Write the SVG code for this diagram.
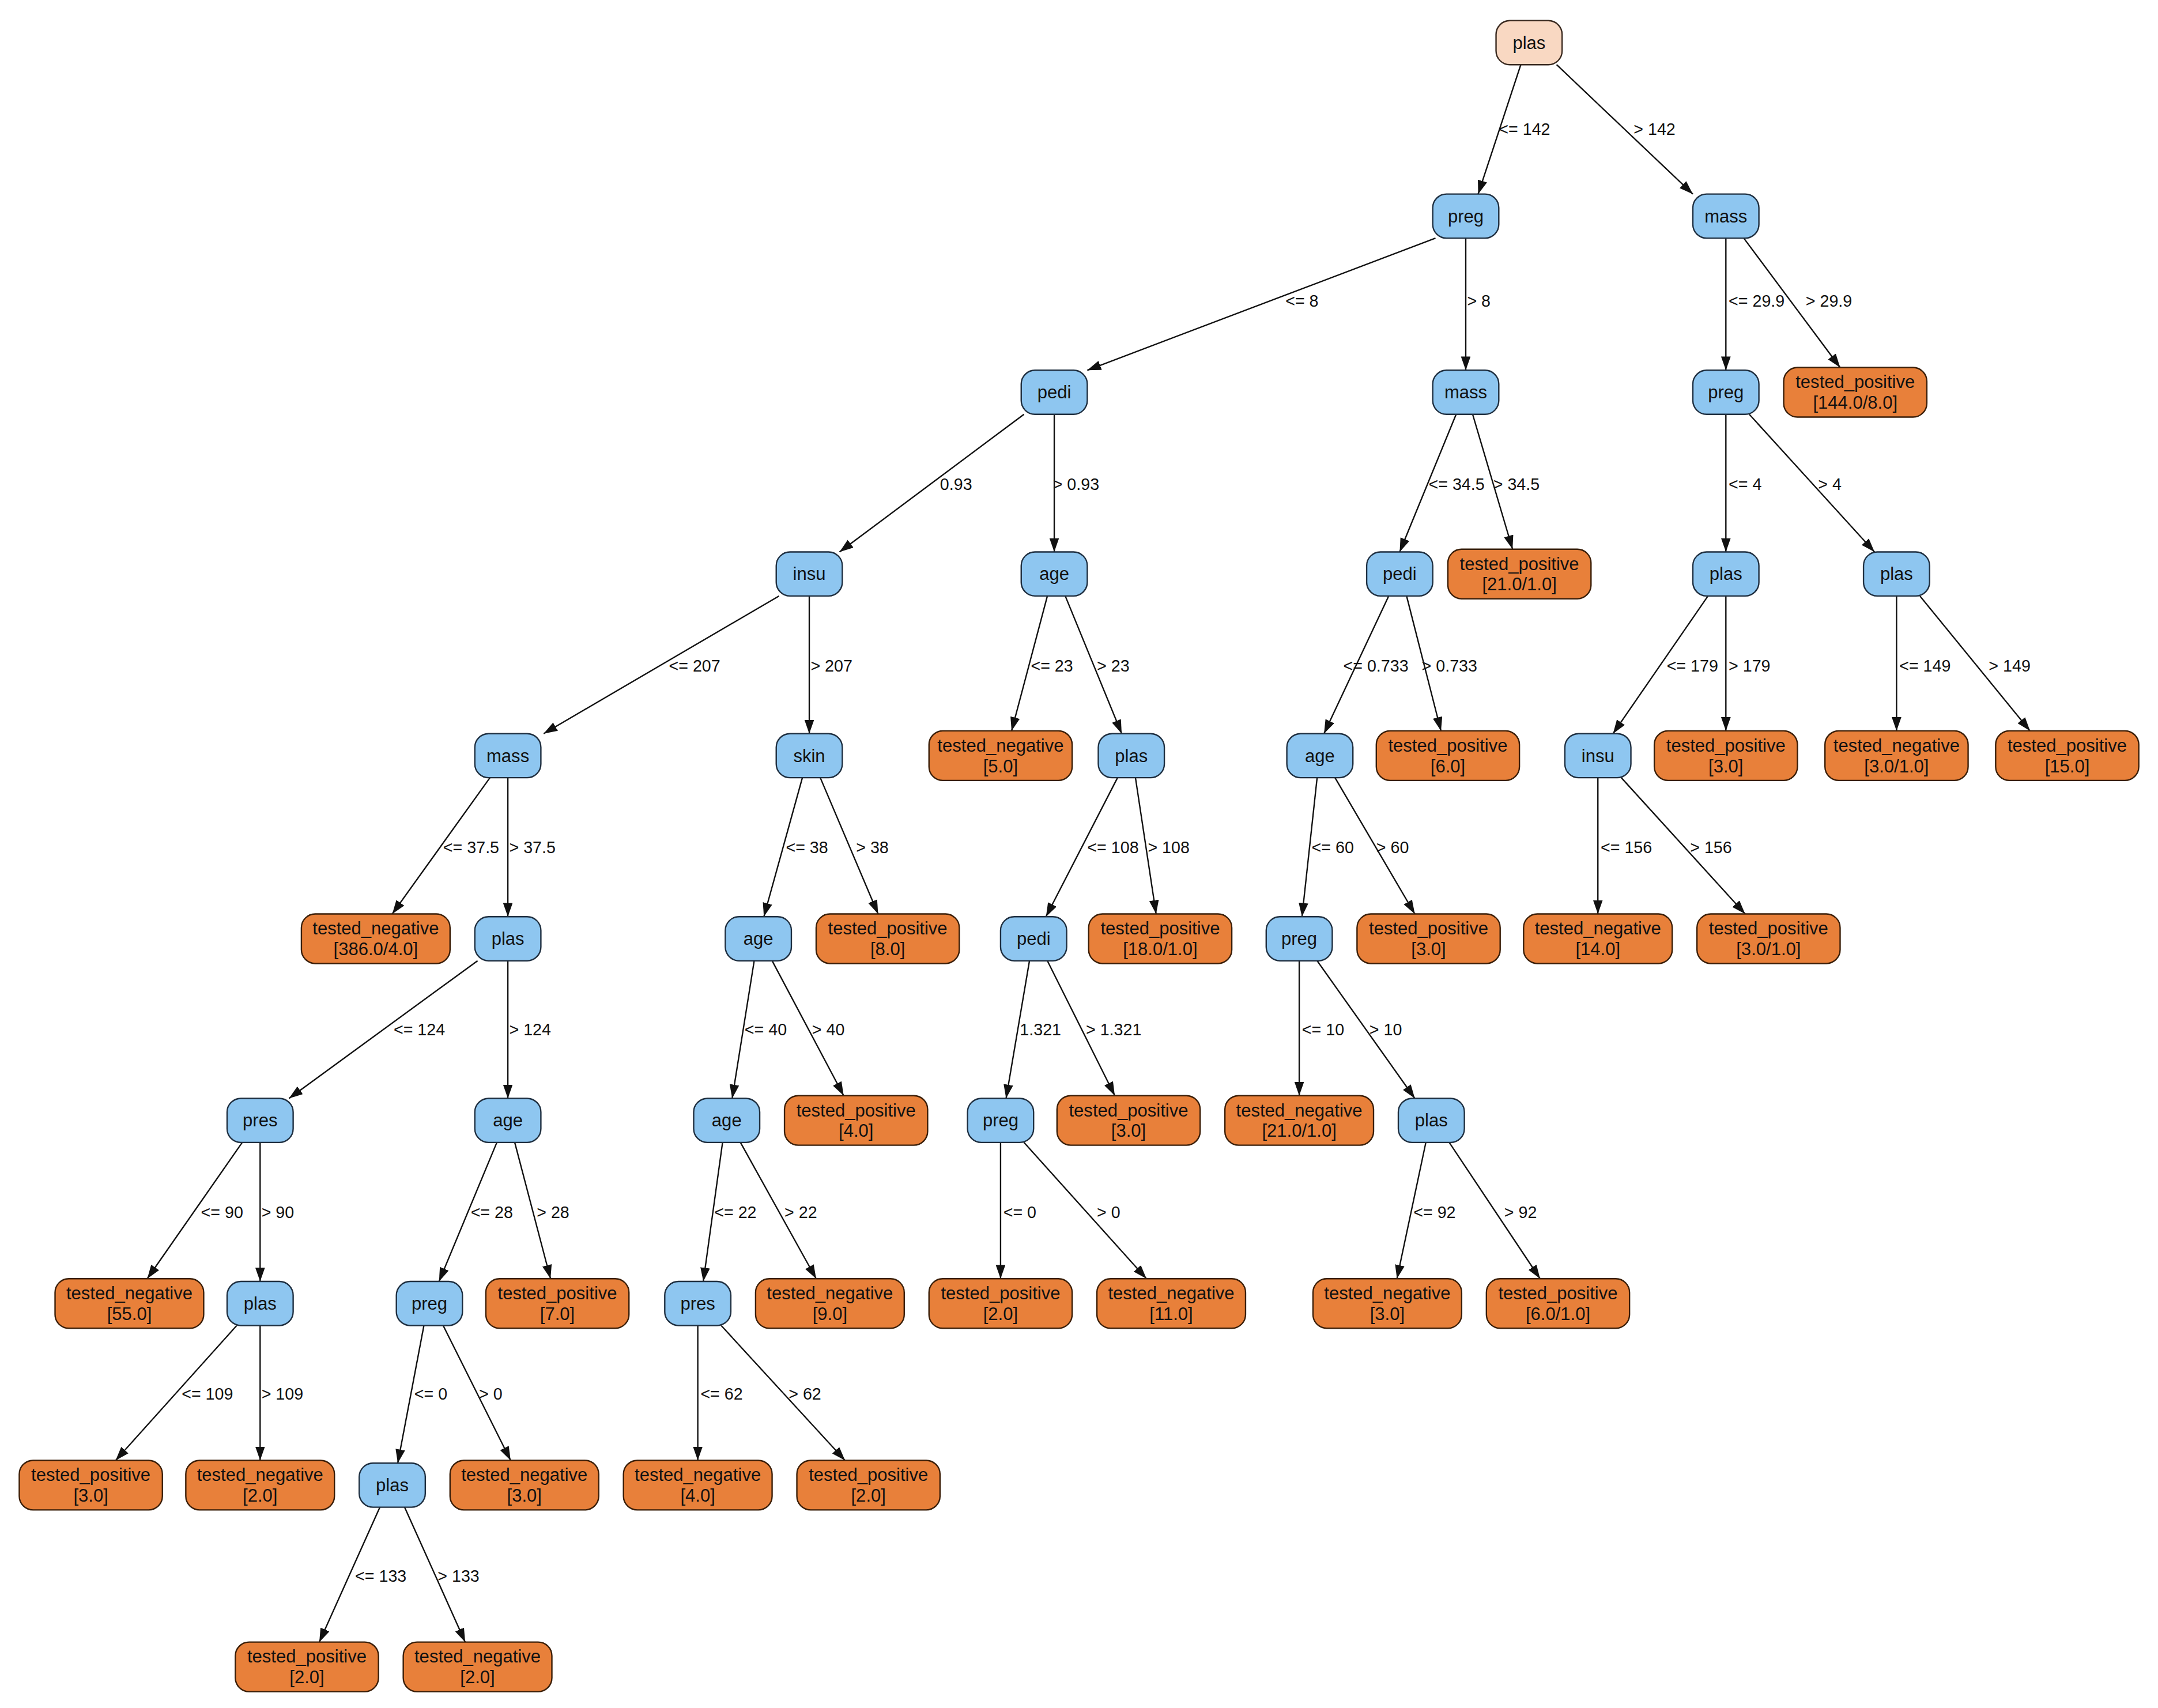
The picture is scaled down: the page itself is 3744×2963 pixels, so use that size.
<svg xmlns="http://www.w3.org/2000/svg" width="3744" height="2963" viewBox="0 0 3744 2963">
<style>
.i rect{fill:#8ec6f0;stroke:#1f2f40;stroke-width:1}
.l rect{fill:#e8803a;stroke:#3a1e08;stroke-width:1}
.r rect{fill:#f9d8c2;stroke:#3a2a20;stroke-width:1}
text{font-family:"Liberation Sans",Arial,sans-serif;fill:#111}
.n text{font-size:13px;text-anchor:middle}
#edges line{stroke:#111;stroke-width:1;marker-end:url(#a)}
#labels text{font-size:12px}
</style>
<defs><marker id="a" markerUnits="userSpaceOnUse" markerWidth="11" markerHeight="8" refX="10" refY="3.5" orient="auto"><path d="M0,0L10,3.5L0,7z" fill="#111"/></marker></defs>
<rect width="3744" height="2963" fill="#fff"/>
<g transform="scale(2.3878)">
<g id="edges">
<line x1="1105" y1="47" x2="1074" y2="141"/>
<line x1="1131" y1="47" x2="1230" y2="141"/>
<line x1="1043" y1="173" x2="790" y2="269"/>
<line x1="1065" y1="173" x2="1065" y2="269"/>
<line x1="1254" y1="173" x2="1254" y2="269"/>
<line x1="1267" y1="173" x2="1337" y2="267"/>
<line x1="744" y1="301" x2="610" y2="401"/>
<line x1="766" y1="301" x2="766" y2="401"/>
<line x1="1058" y1="301" x2="1017" y2="401"/>
<line x1="1070" y1="301" x2="1099" y2="399"/>
<line x1="1254" y1="301" x2="1254" y2="401"/>
<line x1="1271" y1="301" x2="1362" y2="401"/>
<line x1="566" y1="433" x2="395" y2="533"/>
<line x1="588" y1="433" x2="588" y2="533"/>
<line x1="761" y1="433" x2="735" y2="531"/>
<line x1="774" y1="433" x2="815" y2="533"/>
<line x1="1009" y1="433" x2="962" y2="533"/>
<line x1="1022" y1="433" x2="1047" y2="531"/>
<line x1="1241" y1="433" x2="1172" y2="533"/>
<line x1="1254" y1="433" x2="1254" y2="531"/>
<line x1="1378" y1="433" x2="1378" y2="531"/>
<line x1="1395" y1="433" x2="1475" y2="531"/>
<line x1="356" y1="565" x2="285" y2="664"/>
<line x1="369" y1="565" x2="369" y2="666"/>
<line x1="583" y1="565" x2="555" y2="666"/>
<line x1="596" y1="565" x2="638" y2="664"/>
<line x1="812" y1="565" x2="760" y2="666"/>
<line x1="825" y1="565" x2="840" y2="664"/>
<line x1="957" y1="565" x2="946" y2="666"/>
<line x1="970" y1="565" x2="1028" y2="664"/>
<line x1="1161" y1="565" x2="1161" y2="664"/>
<line x1="1178" y1="565" x2="1268" y2="664"/>
<line x1="347" y1="698" x2="210" y2="798"/>
<line x1="369" y1="698" x2="369" y2="798"/>
<line x1="548" y1="698" x2="532" y2="798"/>
<line x1="561" y1="698" x2="613" y2="796"/>
<line x1="748" y1="698" x2="731" y2="798"/>
<line x1="761" y1="698" x2="810" y2="796"/>
<line x1="944" y1="698" x2="944" y2="796"/>
<line x1="957" y1="698" x2="1028" y2="798"/>
<line x1="176" y1="830" x2="107" y2="929"/>
<line x1="189" y1="830" x2="189" y2="931"/>
<line x1="361" y1="830" x2="319" y2="931"/>
<line x1="374" y1="830" x2="400" y2="929"/>
<line x1="525" y1="830" x2="511" y2="931"/>
<line x1="538" y1="830" x2="593" y2="929"/>
<line x1="727" y1="830" x2="727" y2="929"/>
<line x1="744" y1="830" x2="833" y2="929"/>
<line x1="1036" y1="830" x2="1015" y2="929"/>
<line x1="1053" y1="830" x2="1119" y2="929"/>
<line x1="172" y1="963" x2="84" y2="1061"/>
<line x1="189" y1="963" x2="189" y2="1061"/>
<line x1="308" y1="963" x2="289" y2="1063"/>
<line x1="322" y1="963" x2="371" y2="1061"/>
<line x1="507" y1="963" x2="507" y2="1061"/>
<line x1="524" y1="963" x2="614" y2="1061"/>
<line x1="276" y1="1095" x2="232" y2="1193"/>
<line x1="294" y1="1095" x2="338" y2="1193"/>
</g>
<g id="labels">
<text x="1089" y="98">&lt;= 142</text><text x="1187" y="98">&gt; 142</text>
<text x="934" y="223">&lt;= 8</text><text x="1066" y="223">&gt; 8</text>
<text x="1256" y="223">&lt;= 29.9</text><text x="1312" y="223">&gt; 29.9</text>
<text x="683" y="356">0.93</text><text x="765" y="356">&gt; 0.93</text>
<text x="1038" y="356">&lt;= 34.5</text><text x="1085" y="356">&gt; 34.5</text>
<text x="1256" y="356">&lt;= 4</text><text x="1321" y="356">&gt; 4</text>
<text x="486" y="488">&lt;= 207</text><text x="589" y="488">&gt; 207</text>
<text x="749" y="488">&lt;= 23</text><text x="797" y="488">&gt; 23</text>
<text x="976" y="488">&lt;= 0.733</text><text x="1033" y="488">&gt; 0.733</text>
<text x="1211" y="488">&lt;= 179</text><text x="1256" y="488">&gt; 179</text>
<text x="1380" y="488">&lt;= 149</text><text x="1445" y="488">&gt; 149</text>
<text x="322" y="620">&lt;= 37.5</text><text x="370" y="620">&gt; 37.5</text>
<text x="571" y="620">&lt;= 38</text><text x="622" y="620">&gt; 38</text>
<text x="790" y="620">&lt;= 108</text><text x="834" y="620">&gt; 108</text>
<text x="953" y="620">&lt;= 60</text><text x="1000" y="620">&gt; 60</text>
<text x="1163" y="620">&lt;= 156</text><text x="1228" y="620">&gt; 156</text>
<text x="286" y="752">&lt;= 124</text><text x="370" y="752">&gt; 124</text>
<text x="541" y="752">&lt;= 40</text><text x="590" y="752">&gt; 40</text>
<text x="741" y="752">1.321</text><text x="789" y="752">&gt; 1.321</text>
<text x="946" y="752">&lt;= 10</text><text x="995" y="752">&gt; 10</text>
<text x="146" y="885">&lt;= 90</text><text x="190" y="885">&gt; 90</text>
<text x="342" y="885">&lt;= 28</text><text x="390" y="885">&gt; 28</text>
<text x="519" y="885">&lt;= 22</text><text x="570" y="885">&gt; 22</text>
<text x="729" y="885">&lt;= 0</text><text x="797" y="885">&gt; 0</text>
<text x="1027" y="885">&lt;= 92</text><text x="1093" y="885">&gt; 92</text>
<text x="132" y="1017">&lt;= 109</text><text x="190" y="1017">&gt; 109</text>
<text x="301" y="1017">&lt;= 0</text><text x="348" y="1017">&gt; 0</text>
<text x="509" y="1017">&lt;= 62</text><text x="573" y="1017">&gt; 62</text>
<text x="258" y="1149">&lt;= 133</text><text x="318" y="1149">&gt; 133</text>
</g>
<g id="n0" class="n r"><rect x="1087" y="15" width="48" height="32" rx="10"/><text x="1111" y="35.5">plas</text></g>
<g id="n1" class="n i"><rect x="1041" y="141" width="48" height="32" rx="10"/><text x="1065" y="161.5">preg</text></g>
<g id="n2" class="n i"><rect x="1230" y="141" width="48" height="32" rx="10"/><text x="1254" y="161.5">mass</text></g>
<g id="n3" class="n i"><rect x="742" y="269" width="48" height="32" rx="10"/><text x="766" y="289.5">pedi</text></g>
<g id="n4" class="n i"><rect x="1041" y="269" width="48" height="32" rx="10"/><text x="1065" y="289.5">mass</text></g>
<g id="n5" class="n i"><rect x="1230" y="269" width="48" height="32" rx="10"/><text x="1254" y="289.5">preg</text></g>
<g id="n6" class="n l"><rect x="1296" y="267" width="104" height="36" rx="10"/><text x="1348" y="282">tested_positive</text><text x="1348" y="297">[144.0/8.0]</text></g>
<g id="n7" class="n i"><rect x="564" y="401" width="48" height="32" rx="10"/><text x="588" y="421.5">insu</text></g>
<g id="n8" class="n i"><rect x="742" y="401" width="48" height="32" rx="10"/><text x="766" y="421.5">age</text></g>
<g id="n9" class="n i"><rect x="993" y="401" width="48" height="32" rx="10"/><text x="1017" y="421.5">pedi</text></g>
<g id="n10" class="n l"><rect x="1052" y="399" width="104" height="36" rx="10"/><text x="1104" y="414">tested_positive</text><text x="1104" y="429">[21.0/1.0]</text></g>
<g id="n11" class="n i"><rect x="1230" y="401" width="48" height="32" rx="10"/><text x="1254" y="421.5">plas</text></g>
<g id="n12" class="n i"><rect x="1354" y="401" width="48" height="32" rx="10"/><text x="1378" y="421.5">plas</text></g>
<g id="n13" class="n i"><rect x="345" y="533" width="48" height="32" rx="10"/><text x="369" y="553.5">mass</text></g>
<g id="n14" class="n i"><rect x="564" y="533" width="48" height="32" rx="10"/><text x="588" y="553.5">skin</text></g>
<g id="n15" class="n l"><rect x="675" y="531" width="104" height="36" rx="10"/><text x="727" y="546">tested_negative</text><text x="727" y="561">[5.0]</text></g>
<g id="n16" class="n i"><rect x="798" y="533" width="48" height="32" rx="10"/><text x="822" y="553.5">plas</text></g>
<g id="n17" class="n i"><rect x="935" y="533" width="48" height="32" rx="10"/><text x="959" y="553.5">age</text></g>
<g id="n18" class="n l"><rect x="1000" y="531" width="104" height="36" rx="10"/><text x="1052" y="546">tested_positive</text><text x="1052" y="561">[6.0]</text></g>
<g id="n19" class="n i"><rect x="1137" y="533" width="48" height="32" rx="10"/><text x="1161" y="553.5">insu</text></g>
<g id="n20" class="n l"><rect x="1202" y="531" width="104" height="36" rx="10"/><text x="1254" y="546">tested_positive</text><text x="1254" y="561">[3.0]</text></g>
<g id="n21" class="n l"><rect x="1326" y="531" width="104" height="36" rx="10"/><text x="1378" y="546">tested_negative</text><text x="1378" y="561">[3.0/1.0]</text></g>
<g id="n22" class="n l"><rect x="1450" y="531" width="104" height="36" rx="10"/><text x="1502" y="546">tested_positive</text><text x="1502" y="561">[15.0]</text></g>
<g id="n23" class="n l"><rect x="219" y="664" width="108" height="36" rx="10"/><text x="273" y="679">tested_negative</text><text x="273" y="694">[386.0/4.0]</text></g>
<g id="n24" class="n i"><rect x="345" y="666" width="48" height="32" rx="10"/><text x="369" y="686.5">plas</text></g>
<g id="n25" class="n i"><rect x="527" y="666" width="48" height="32" rx="10"/><text x="551" y="686.5">age</text></g>
<g id="n26" class="n l"><rect x="593" y="664" width="104" height="36" rx="10"/><text x="645" y="679">tested_positive</text><text x="645" y="694">[8.0]</text></g>
<g id="n27" class="n i"><rect x="727" y="666" width="48" height="32" rx="10"/><text x="751" y="686.5">pedi</text></g>
<g id="n28" class="n l"><rect x="791" y="664" width="104" height="36" rx="10"/><text x="843" y="679">tested_positive</text><text x="843" y="694">[18.0/1.0]</text></g>
<g id="n29" class="n i"><rect x="920" y="666" width="48" height="32" rx="10"/><text x="944" y="686.5">preg</text></g>
<g id="n30" class="n l"><rect x="986" y="664" width="104" height="36" rx="10"/><text x="1038" y="679">tested_positive</text><text x="1038" y="694">[3.0]</text></g>
<g id="n31" class="n l"><rect x="1107" y="664" width="108" height="36" rx="10"/><text x="1161" y="679">tested_negative</text><text x="1161" y="694">[14.0]</text></g>
<g id="n32" class="n l"><rect x="1233" y="664" width="104" height="36" rx="10"/><text x="1285" y="679">tested_positive</text><text x="1285" y="694">[3.0/1.0]</text></g>
<g id="n33" class="n i"><rect x="165" y="798" width="48" height="32" rx="10"/><text x="189" y="818.5">pres</text></g>
<g id="n34" class="n i"><rect x="345" y="798" width="48" height="32" rx="10"/><text x="369" y="818.5">age</text></g>
<g id="n35" class="n i"><rect x="504" y="798" width="48" height="32" rx="10"/><text x="528" y="818.5">age</text></g>
<g id="n36" class="n l"><rect x="570" y="796" width="104" height="36" rx="10"/><text x="622" y="811">tested_positive</text><text x="622" y="826">[4.0]</text></g>
<g id="n37" class="n i"><rect x="703" y="798" width="48" height="32" rx="10"/><text x="727" y="818.5">preg</text></g>
<g id="n38" class="n l"><rect x="768" y="796" width="104" height="36" rx="10"/><text x="820" y="811">tested_positive</text><text x="820" y="826">[3.0]</text></g>
<g id="n39" class="n l"><rect x="890" y="796" width="108" height="36" rx="10"/><text x="944" y="811">tested_negative</text><text x="944" y="826">[21.0/1.0]</text></g>
<g id="n40" class="n i"><rect x="1016" y="798" width="48" height="32" rx="10"/><text x="1040" y="818.5">plas</text></g>
<g id="n41" class="n l"><rect x="40" y="929" width="108" height="36" rx="10"/><text x="94" y="944">tested_negative</text><text x="94" y="959">[55.0]</text></g>
<g id="n42" class="n i"><rect x="165" y="931" width="48" height="32" rx="10"/><text x="189" y="951.5">plas</text></g>
<g id="n43" class="n i"><rect x="288" y="931" width="48" height="32" rx="10"/><text x="312" y="951.5">preg</text></g>
<g id="n44" class="n l"><rect x="353" y="929" width="104" height="36" rx="10"/><text x="405" y="944">tested_positive</text><text x="405" y="959">[7.0]</text></g>
<g id="n45" class="n i"><rect x="483" y="931" width="48" height="32" rx="10"/><text x="507" y="951.5">pres</text></g>
<g id="n46" class="n l"><rect x="549" y="929" width="108" height="36" rx="10"/><text x="603" y="944">tested_negative</text><text x="603" y="959">[9.0]</text></g>
<g id="n47" class="n l"><rect x="675" y="929" width="104" height="36" rx="10"/><text x="727" y="944">tested_positive</text><text x="727" y="959">[2.0]</text></g>
<g id="n48" class="n l"><rect x="797" y="929" width="108" height="36" rx="10"/><text x="851" y="944">tested_negative</text><text x="851" y="959">[11.0]</text></g>
<g id="n49" class="n l"><rect x="954" y="929" width="108" height="36" rx="10"/><text x="1008" y="944">tested_negative</text><text x="1008" y="959">[3.0]</text></g>
<g id="n50" class="n l"><rect x="1080" y="929" width="104" height="36" rx="10"/><text x="1132" y="944">tested_positive</text><text x="1132" y="959">[6.0/1.0]</text></g>
<g id="n51" class="n l"><rect x="14" y="1061" width="104" height="36" rx="10"/><text x="66" y="1076">tested_positive</text><text x="66" y="1091">[3.0]</text></g>
<g id="n52" class="n l"><rect x="135" y="1061" width="108" height="36" rx="10"/><text x="189" y="1076">tested_negative</text><text x="189" y="1091">[2.0]</text></g>
<g id="n53" class="n i"><rect x="261" y="1063" width="48" height="32" rx="10"/><text x="285" y="1083.5">plas</text></g>
<g id="n54" class="n l"><rect x="327" y="1061" width="108" height="36" rx="10"/><text x="381" y="1076">tested_negative</text><text x="381" y="1091">[3.0]</text></g>
<g id="n55" class="n l"><rect x="453" y="1061" width="108" height="36" rx="10"/><text x="507" y="1076">tested_negative</text><text x="507" y="1091">[4.0]</text></g>
<g id="n56" class="n l"><rect x="579" y="1061" width="104" height="36" rx="10"/><text x="631" y="1076">tested_positive</text><text x="631" y="1091">[2.0]</text></g>
<g id="n57" class="n l"><rect x="171" y="1193" width="104" height="36" rx="10"/><text x="223" y="1208">tested_positive</text><text x="223" y="1223">[2.0]</text></g>
<g id="n58" class="n l"><rect x="293" y="1193" width="108" height="36" rx="10"/><text x="347" y="1208">tested_negative</text><text x="347" y="1223">[2.0]</text></g>
</g>
</svg>
